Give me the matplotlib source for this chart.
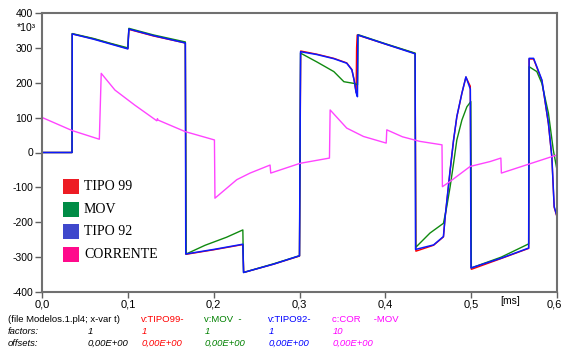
import matplotlib
matplotlib.use("Agg")
import matplotlib.pyplot as plt
from matplotlib.patches import Rectangle
from matplotlib.transforms import ScaledTranslation

plt.rcParams['axes.unicode_minus'] = False
plt.rcParams['font.family'] = ['Liberation Sans', 'DejaVu Sans']

# ---- data (time in ms, values in units of 10^3) ----
t_tipo92 = [0.0, 0.035, 0.0352, 0.06, 0.08, 0.100, 0.1012, 0.13, 0.167, 0.1675,
            0.20, 0.234, 0.2348, 0.27, 0.300, 0.3012, 0.32, 0.34, 0.355, 0.361,
            0.3636, 0.366, 0.3675, 0.368, 0.40, 0.4347, 0.4352, 0.4562, 0.4677,
            0.4697, 0.4755, 0.4795, 0.4833, 0.4892, 0.4939, 0.499, 0.4998, 0.535,
            0.567, 0.5675, 0.5727, 0.5765, 0.5824, 0.590, 0.594, 0.5967, 0.600]
v_tipo92 = [0, 0, 340, 325, 311, 297, 354, 335, 314, -291,
            -278, -263, -344, -320, -296, 289, 281, 269, 256, 237,
            208, 171, 160, 337, 311, 283, -278, -265, -241,
            -184, -50, 36, 103, 170, 217, 182, -331, -303,
            -274, 270, 270, 246, 208, 84, -12, -155, -183]

t_tipo99 = [0.0, 0.035, 0.0352, 0.06, 0.08, 0.100, 0.1012, 0.13, 0.167, 0.1677,
            0.20, 0.234, 0.2350, 0.27, 0.300, 0.3014, 0.32, 0.34, 0.355, 0.361,
            0.3636, 0.366, 0.3665, 0.3672, 0.40, 0.4347, 0.4356, 0.4562, 0.4677,
            0.4697, 0.4755, 0.4795, 0.4833, 0.4892, 0.4939, 0.499, 0.5002, 0.535,
            0.567, 0.5675, 0.5727, 0.5765, 0.5824, 0.590, 0.594, 0.5967, 0.600]
v_tipo99 = [0, 0, 340, 326, 312, 298, 353, 334, 314, -292,
            -279, -264, -344, -320, -297, 291, 282, 270, 257, 238,
            208, 172, 300, 337, 311, 284, -283, -266, -242,
            -185, -52, 35, 102, 170, 216, 190, -335, -304,
            -275, 268, 268, 244, 206, 82, -14, -157, -185]

t_mov = [0.0, 0.035, 0.0352, 0.06, 0.08, 0.100, 0.1012, 0.13, 0.167, 0.1680,
         0.19, 0.215, 0.234, 0.2348, 0.27, 0.300, 0.3012, 0.32, 0.34, 0.3517,
         0.3637, 0.3676, 0.3682, 0.40, 0.4347, 0.4354, 0.452, 0.4677, 0.4716,
         0.4755, 0.4795, 0.4833, 0.4892, 0.495, 0.4996, 0.5002, 0.535, 0.567,
         0.5675, 0.5765, 0.5824, 0.590, 0.5957, 0.600]
v_mov = [0, 0, 341, 327, 313, 300, 356, 337, 317, -291,
         -266, -243, -222, -344, -319, -296, 285, 260, 232, 203,
         198, 194, 338, 312, 285, -272, -231, -203, -155,
         -98, -31, 36, 93, 131, 146, -331, -300, -262,
         246, 232, 198, 113, 7, -50]

t_corrente = [0.0, 0.0005, 0.035, 0.0668, 0.069, 0.085, 0.108, 0.1337, 0.1345,
              0.1352, 0.1667, 0.2009, 0.2015, 0.2269, 0.2424, 0.2657, 0.2665,
              0.3007, 0.3349, 0.3357, 0.355, 0.3745, 0.401, 0.4017, 0.42, 0.44,
              0.466, 0.4665, 0.4755, 0.4988, 0.522, 0.5346, 0.5352, 0.600]
v_corrente = [0, 100, 63, 38, 227, 179, 136, 91, 97,
              93, 60, 36, -131, -78, -59, -36, -59,
              -31, -16, 122, 70, 46, 27, 65, 45, 32,
              22, -98, -83, -40, -26, -16, -59, -7]

series_names = ['TIPO 99', 'MOV', 'TIPO 92', 'CORRENTE']
legend_colors = ['#ed1c24', '#008c46', '#3f48cc', '#ff0a8c']
line_colors = ['#ff0000', '#108a10', '#0a1aff', '#ff44ff']

x_ticks = [0.0, 0.1, 0.2, 0.3, 0.4, 0.5, 0.6]
x_labels = ['0,0', '0,1', '0,2', '0,3', '0,4', '0,5', '0,6']
y_ticks = [-400, -300, -200, -100, 0, 100, 200, 300, 400]
y_labels = ['-400', '-300', '-200', '-100', '0', '100', '200', '300', '400']

W, H = 563, 351
fig = plt.figure(figsize=(W / 100, H / 100), dpi=100)
ax = fig.add_axes([42 / W, (H - 292) / H, (557 - 42) / W, (292 - 13) / H])

ax.plot(t_tipo99, v_tipo99, color=line_colors[0], lw=1.0)
ax.plot(t_mov, v_mov, color=line_colors[1], lw=1.0)
ax.plot(t_tipo92, v_tipo92, color=line_colors[2], lw=1.1)
ax.plot(t_corrente, v_corrente, color=line_colors[3], lw=1.0)

ax.set_xlim(0, 0.6)
ax.set_ylim(-400, 400)
ax.set_xticks(x_ticks)
ax.set_xticklabels(x_labels, fontsize=8)
ax.set_yticks(y_ticks)
ax.set_yticklabels(y_labels, fontsize=7.5)
ax.tick_params(axis='y', direction='out', length=5, width=1, color='#606060', pad=1.5)
ax.tick_params(axis='x', direction='out', length=4, width=1, color='#606060', pad=1.5)
last = ax.get_xticklabels()[-1]
last.set_transform(last.get_transform() + ScaledTranslation(-3 / 100, 0, fig.dpi_scale_trans))
for s in ax.spines.values():
    s.set_color('#707070')
    s.set_linewidth(1.5)

# exponent marker and unit
fig.text(17 / W, 1 - 28 / H, '*10³', fontsize=7.5, ha='left', va='center')
fig.text(500 / W, 1 - 301 / H, '[ms]', fontsize=7.5, ha='left', va='center')

# legend
ys = [186.5, 209.5, 231.5, 254.0]
for name, c, y in zip(series_names, legend_colors, ys):
    fig.patches.append(Rectangle((63 / W, 1 - (y + 7.5) / H), 16 / W, 15 / H,
                                 transform=fig.transFigure, facecolor=c,
                                 edgecolor='none'))
    fig.text(84 / W, 1 - y / H, name, fontsize=10, family='Liberation Serif',
             ha='left', va='center')

# bottom info text
fs = 6.8
r1, r2, r3 = 320, 331.5, 343
fig.text(8 / W, 1 - r1 / H, '(file Modelos.1.pl4; x-var t)', fontsize=fs, va='center')
cols = [(141, 'v:TIPO99-', '#ff0000'), (204, 'v:MOV  -', '#008000'),
        (268, 'v:TIPO92-', '#0000ff'), (332, 'c:COR     -MOV', '#ff00ff')]
for x, lab, c in cols:
    fig.text(x / W, 1 - r1 / H, lab, fontsize=fs, color=c, va='center')
fig.text(8 / W, 1 - r2 / H, 'factors:', fontsize=fs, style='italic', va='center')
fig.text(8 / W, 1 - r3 / H, 'offsets:', fontsize=fs, style='italic', va='center')
fig.text(88 / W, 1 - r2 / H, '1', fontsize=fs, style='italic', va='center')
fig.text(88 / W, 1 - r3 / H, '0,00E+00', fontsize=fs, style='italic', va='center')
factors = ['1', '1', '1', '10']
for (x, lab, c), f in zip(cols, factors):
    fig.text((x + 1) / W, 1 - r2 / H, f, fontsize=fs, style='italic', color=c, va='center')
    fig.text((x + 1) / W, 1 - r3 / H, '0,00E+00', fontsize=fs, style='italic', color=c, va='center')

fig.savefig('out.png', dpi=100)
